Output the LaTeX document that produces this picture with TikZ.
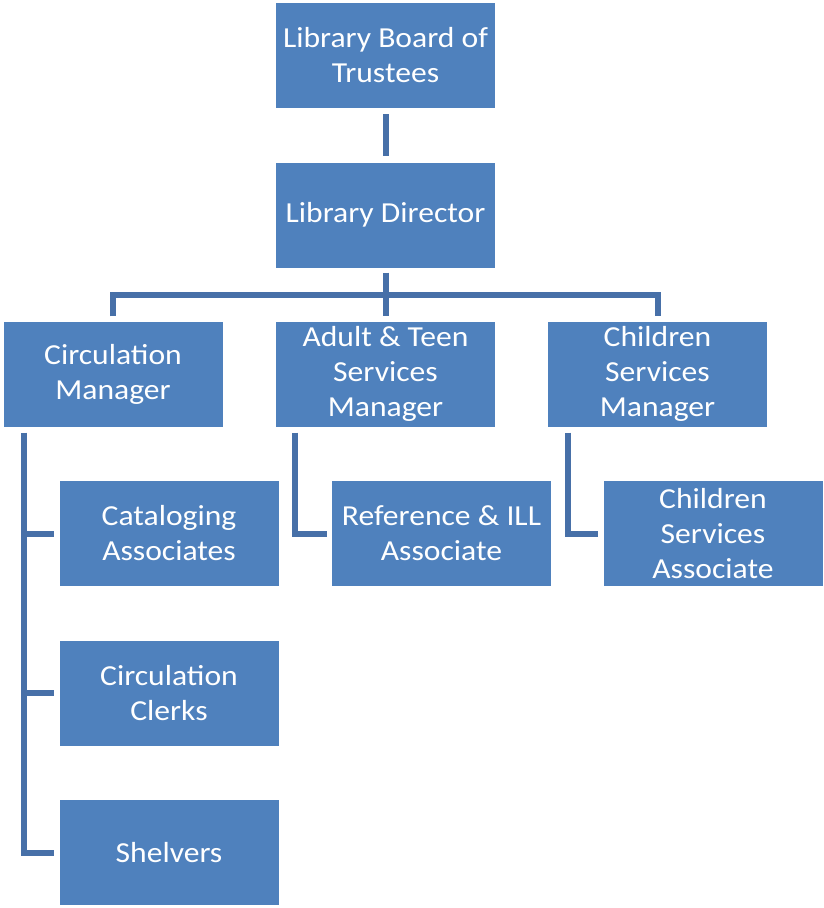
\documentclass[tikz,border=0pt]{standalone}
\usepackage{fontspec}
\setmainfont{Carlito}[FakeStretch=1.09]
\definecolor{boxblue}{HTML}{4F81BD}
\definecolor{linkblue}{HTML}{4770A8}
\begin{document}
\begin{tikzpicture}[x=1pt,y=-1pt,
  orgbox/.style={fill=boxblue, draw=none, text=white, minimum width=219pt, minimum height=105pt,
    inner sep=0pt, align=center, font=\fontsize{29}{35}\selectfont},
  conn/.style={draw=linkblue, line width=6pt}]
\useasboundingbox (0,0) rectangle (824,908);
\node[orgbox] (board) at (385.5,55.5) {Library Board of\\Trustees};
\node[orgbox] (director) at (385.5,215) {Library Director};
\node[orgbox] (circ) at (113,374) {Circulation\\Manager};
\node[orgbox] (adult) at (385.5,374) {Adult \& Teen\\Services\\Manager};
\node[orgbox] (child) at (657.5,374) {Children\\Services\\Manager};
\node[orgbox] (catalog) at (169,533.5) {Cataloging\\Associates};
\node[orgbox] (clerks) at (169,693) {Circulation\\Clerks};
\node[orgbox] (shelvers) at (169,852.5) {Shelvers};
\node[orgbox] (ref) at (441.5,533.5) {Reference \& ILL\\Associate};
\node[orgbox] (childassoc) at (713,533.5) {Children\\Services\\Associate};
% connectors
\draw[conn] ([yshift=-6pt]board.south) -- ([yshift=6pt]director.north);
\coordinate (bar) at (385.5,295);
\draw[conn] ([yshift=-5pt]director.south) -- ([yshift=5pt]adult.north);
\draw[conn] ([yshift=5pt]circ.north) -- (circ.north |- bar) -- (child.north |- bar) -- ([yshift=5pt]child.north);
\coordinate (cl) at ([xshift=21pt]circ.south west);
\draw[conn] ([yshift=-6pt]cl) -- (cl |- shelvers.west) -- ([xshift=-5pt]shelvers.west);
\draw[conn] (cl |- catalog.west) -- ([xshift=-5pt]catalog.west);
\draw[conn] (cl |- clerks.west) -- ([xshift=-5pt]clerks.west);
\coordinate (al) at ([xshift=19pt]adult.south west);
\draw[conn] ([yshift=-6pt]al) -- (al |- ref.west) -- ([xshift=-5pt]ref.west);
\coordinate (chl) at ([xshift=20pt]child.south west);
\draw[conn] ([yshift=-6pt]chl) -- (chl |- childassoc.west) -- ([xshift=-5pt]childassoc.west);
\end{tikzpicture}
\end{document}
